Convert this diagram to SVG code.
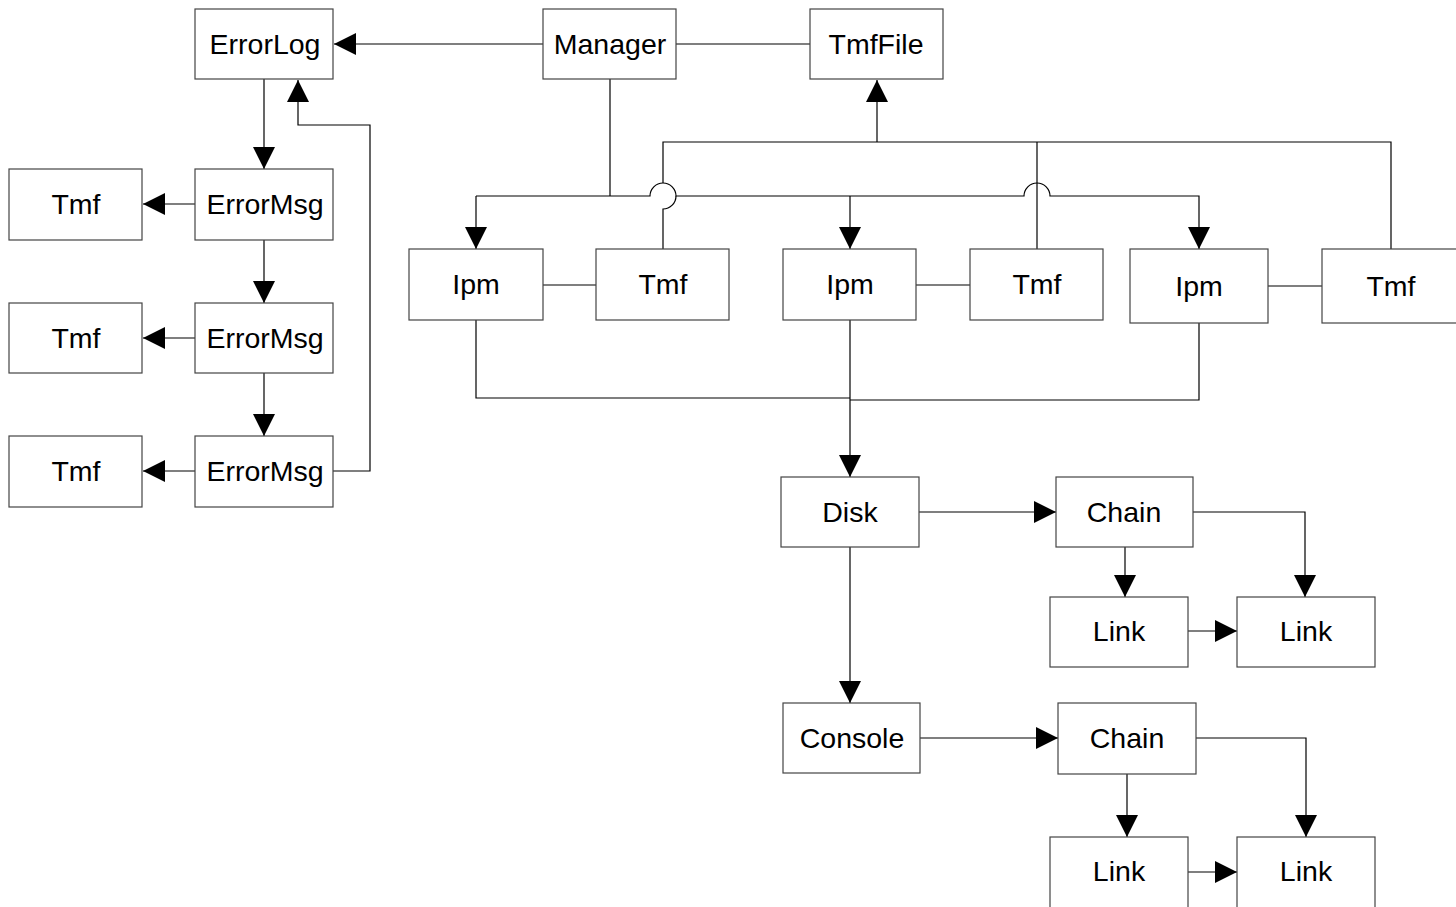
<svg xmlns="http://www.w3.org/2000/svg" width="1456" height="907" viewBox="0 0 1456 907">
  <style>
    .box rect { fill: #fff; stroke: #444; stroke-width: 1.2; }
    .box text { font-family: "Liberation Sans", Arial, sans-serif; font-size: 28.5px; fill: #000; text-anchor: middle; }
    .edge { fill: none; stroke: #000; stroke-width: 1.2; }
    .arr { marker-end: url(#head); }
  </style>
  <defs>
    <marker id="head" markerUnits="userSpaceOnUse" markerWidth="23" markerHeight="23" refX="22" refY="11" orient="auto">
      <path d="M0,0 L22,11 L0,22 Z" fill="#000"/>
    </marker>
  </defs>

  <rect width="1456" height="907" fill="#fff"/>

  <g id="connectors">
    <!-- Manager to ErrorLog -->
    <path class="edge arr" d="M543,44 H334"/>
    <!-- Manager to TmfFile -->
    <path class="edge" d="M676,44 H810"/>
    <!-- ErrorLog chain -->
    <path class="edge arr" d="M264,79 V169"/>
    <path class="edge arr" d="M264,240 V303"/>
    <path class="edge arr" d="M264,373 V436"/>
    <path class="edge arr" d="M333,471 H370 V125 H298 V80"/>
    <!-- ErrorMsg to Tmf -->
    <path class="edge arr" d="M195,204 H143"/>
    <path class="edge arr" d="M195,338 H143"/>
    <path class="edge arr" d="M195,471 H143"/>
    <!-- Manager bus to Ipm nodes, hopping over Tmf risers -->
    <path class="edge" d="M610,79 V196"/>
    <path class="edge arr" d="M476,196 H650 A13,13 0 0 1 676,196 H1024 A13,13 0 0 1 1050,196 H1199 V249"/>
    <path class="edge arr" d="M476,196 V249"/>
    <path class="edge arr" d="M850,196 V249"/>
    <!-- Tmf nodes to TmfFile -->
    <path class="edge arr" d="M877,142 V80"/>
    <path class="edge" d="M663,183 V142 H1391 V249"/>
    <path class="edge" d="M676,196 A13,13 0 0 1 663,209 V249"/>
    <path class="edge" d="M1037,142 V249"/>
    <!-- Ipm to Tmf -->
    <path class="edge" d="M543,285 H596"/>
    <path class="edge" d="M916,285 H970"/>
    <path class="edge" d="M1268,286 H1322"/>
    <!-- Ipm nodes to Disk -->
    <path class="edge" d="M476,320 V398 H850"/>
    <path class="edge" d="M1199,323 V400 H850"/>
    <path class="edge arr" d="M850,320 V477"/>
    <!-- Disk branch -->
    <path class="edge arr" d="M919,512 H1056"/>
    <path class="edge arr" d="M1125,547 V597"/>
    <path class="edge arr" d="M1193,512 H1305 V597"/>
    <path class="edge arr" d="M1188,631 H1237"/>
    <path class="edge arr" d="M850,547 V703"/>
    <!-- Console branch -->
    <path class="edge arr" d="M920,738 H1058"/>
    <path class="edge arr" d="M1127,774 V837"/>
    <path class="edge arr" d="M1196,738 H1306 V837"/>
    <path class="edge arr" d="M1188,872 H1237"/>
  </g>

  <g id="errorlog" class="box"><rect x="195" y="9" width="138" height="70"/><text x="265" y="54">ErrorLog</text></g>
  <g id="manager" class="box"><rect x="543" y="9" width="133" height="70"/><text x="610" y="54">Manager</text></g>
  <g id="tmffile" class="box"><rect x="810" y="9" width="133" height="70"/><text x="876" y="54">TmfFile</text></g>

  <g id="errormsg1" class="box"><rect x="195" y="169" width="138" height="71"/><text x="265" y="214">ErrorMsg</text></g>
  <g id="errormsg2" class="box"><rect x="195" y="303" width="138" height="70"/><text x="265" y="348">ErrorMsg</text></g>
  <g id="errormsg3" class="box"><rect x="195" y="436" width="138" height="71"/><text x="265" y="481">ErrorMsg</text></g>
  <g id="tmf-log1" class="box"><rect x="9" y="169" width="133" height="71"/><text x="76" y="214">Tmf</text></g>
  <g id="tmf-log2" class="box"><rect x="9" y="303" width="133" height="70"/><text x="76" y="348">Tmf</text></g>
  <g id="tmf-log3" class="box"><rect x="9" y="436" width="133" height="71"/><text x="76" y="481">Tmf</text></g>

  <g id="ipm1" class="box"><rect x="409" y="249" width="134" height="71"/><text x="476" y="294">Ipm</text></g>
  <g id="tmf1" class="box"><rect x="596" y="249" width="133" height="71"/><text x="663" y="294">Tmf</text></g>
  <g id="ipm2" class="box"><rect x="783" y="249" width="133" height="71"/><text x="850" y="294">Ipm</text></g>
  <g id="tmf2" class="box"><rect x="970" y="249" width="133" height="71"/><text x="1037" y="294">Tmf</text></g>
  <g id="ipm3" class="box"><rect x="1130" y="249" width="138" height="74"/><text x="1199" y="296">Ipm</text></g>
  <g id="tmf3" class="box"><rect x="1322" y="249" width="140" height="74"/><text x="1391" y="296">Tmf</text></g>

  <g id="disk" class="box"><rect x="781" y="477" width="138" height="70"/><text x="850" y="522">Disk</text></g>
  <g id="chain1" class="box"><rect x="1056" y="477" width="137" height="70"/><text x="1124" y="522">Chain</text></g>
  <g id="link1a" class="box"><rect x="1050" y="597" width="138" height="70"/><text x="1119" y="641">Link</text></g>
  <g id="link1b" class="box"><rect x="1237" y="597" width="138" height="70"/><text x="1306" y="641">Link</text></g>

  <g id="console" class="box"><rect x="783" y="703" width="137" height="70"/><text x="852" y="748">Console</text></g>
  <g id="chain2" class="box"><rect x="1058" y="703" width="138" height="71"/><text x="1127" y="748">Chain</text></g>
  <g id="link2a" class="box"><rect x="1050" y="837" width="138" height="80"/><text x="1119" y="881">Link</text></g>
  <g id="link2b" class="box"><rect x="1237" y="837" width="138" height="80"/><text x="1306" y="881">Link</text></g>
</svg>
